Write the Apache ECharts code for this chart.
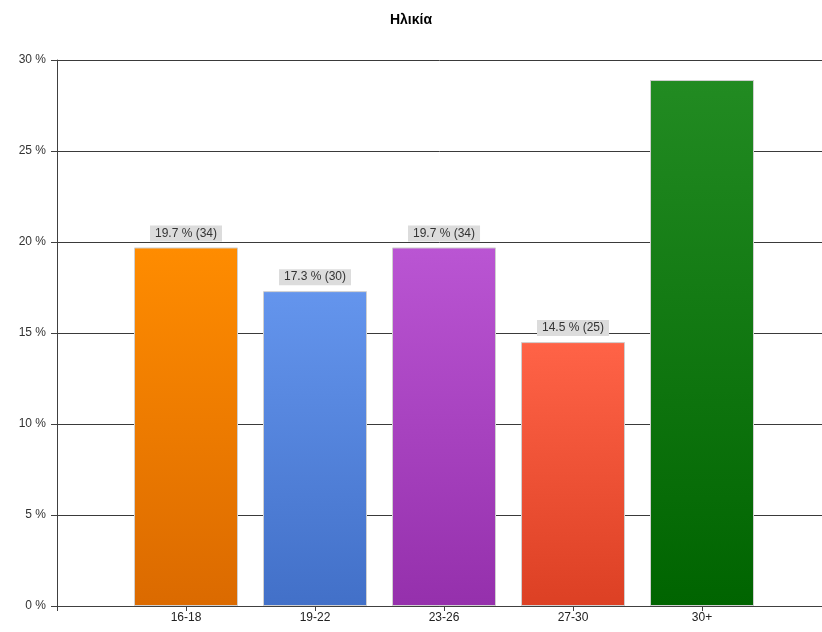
<!DOCTYPE html>
<html>
<head>
<meta charset="utf-8">
<script src="https://cdn.jsdelivr.net/npm/echarts@6/dist/echarts.min.js"></script>
<style>html,body{margin:0;padding:0;background:#fff}#c{width:822px;height:632px}</style>
</head>
<body>
<div id="c"></div>
<script>
var categories = ['16-18', '19-22', '23-26', '27-30', '30+'];
var percents = [19.7, 17.3, 19.7, 14.5, 28.9];
var counts = [34, 30, 34, 25, 50];
var showLabel = [true, true, true, true, false];
var topColors = ['#FF8C00', '#6495ED', '#BA55D3', '#FF6347', '#228B22'];
var bottomColors = ['#DB6A00', '#4270C8', '#9530AC', '#DC4024', '#006400'];
var yTicks = [0, 5, 10, 15, 20, 25, 30];

var chart = echarts.init(document.getElementById('c'), null, {renderer: 'canvas'});
var data = categories.map(function (c, i) {
  return {
    value: [i + 1, percents[i]],
    itemStyle: {
      color: new echarts.graphic.LinearGradient(0, 0, 0, 1, [
        {offset: 0, color: topColors[i]},
        {offset: 1, color: bottomColors[i]}
      ]),
      borderColor: '#d0d0d0',
      borderWidth: 1
    },
    label: {show: showLabel[i]}
  };
});

chart.setOption({
  animation: false,
  title: {
    text: 'Ηλικία',
    left: 'center',
    top: 8,
    textStyle: {fontFamily: 'Liberation Sans', fontSize: 14, fontWeight: 'bold', color: '#000'}
  },
  grid: {left: 57, top: 60, bottom: 26, right: 0, containLabel: false},
  xAxis: {
    type: 'value',
    min: 0, max: 5.93, interval: 1,
    axisLine: {show: true, lineStyle: {color: '#404040', width: 1}},
    axisTick: {show: true, length: 5, lineStyle: {color: '#404040'}},
    splitLine: {show: false},
    axisLabel: {
      color: '#222', fontFamily: 'Liberation Sans', fontSize: 12, margin: 6,
      showMaxLabel: false,
      formatter: function (v) { return categories[Math.round(v) - 1] || ''; }
    }
  },
  yAxis: {
    type: 'value',
    min: yTicks[0], max: yTicks[yTicks.length - 1], interval: 5,
    axisLine: {show: true, onZero: false, lineStyle: {color: '#404040', width: 1}},
    axisTick: {show: true, length: 6, lineStyle: {color: '#404040'}},
    splitLine: {show: true, lineStyle: {color: '#3a3a3a', width: 1}},
    axisLabel: {
      color: '#333', fontFamily: 'Liberation Sans', fontSize: 12, margin: 11,
      formatter: function (v) { return v + ' %'; }
    }
  },
  series: [{
    type: 'bar',
    barWidth: 104,
    data: data,
    label: {
      position: 'top',
      distance: 6,
      fontFamily: 'Liberation Sans',
      fontSize: 12,
      color: '#333',
      backgroundColor: '#dcdcdc',
      padding: [2, 5, 2, 5],
      formatter: function (p) {
        var i = p.dataIndex;
        return percents[i].toFixed(1) + ' % (' + counts[i] + ')';
      }
    }
  }]
});
</script>
</body>
</html>
